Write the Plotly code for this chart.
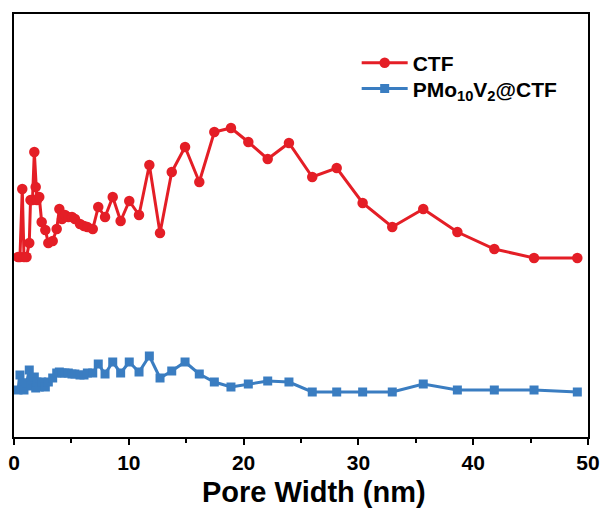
import plotly.graph_objects as go

# Pore width (nm), shared by both samples
pore_width = [0.35, 0.52, 0.72, 0.87, 1.09, 1.33, 1.44, 1.61, 1.77, 1.89,
              2.00, 2.20, 2.41, 2.73, 2.99, 3.37, 3.72, 3.95, 4.18, 4.44,
              4.73, 5.05, 5.31, 5.75, 6.10, 6.39, 6.86, 7.34, 7.93, 8.60,
              9.29, 10.04, 10.89, 11.79, 12.72, 13.74, 14.90, 16.14, 17.45, 18.90,
              20.41, 22.10, 23.95, 25.98, 28.11, 30.37, 32.95, 35.65, 38.62, 41.84,
              45.30, 49.07]

# Pore size distribution (arbitrary units, curves offset vertically)
ctf = [180, 180, 248, 180, 180, 194, 237, 237, 285, 250,
       237, 240, 215, 207, 194, 196, 208, 228, 218, 222,
       220, 220, 218, 213, 211, 210, 208, 230, 220, 240,
       216, 236, 222, 272, 204, 265, 290, 255, 305, 309,
       295, 278, 294, 260, 269, 234, 210, 228, 205, 188,
       179, 179]

pmo_ctf = [47, 62, 54, 47, 54, 67, 51, 57, 60, 49,
           55, 50, 55, 50, 55, 59, 64, 65, 64, 64,
           64, 63, 63, 62, 62, 64, 64, 73, 63, 75,
           64, 75, 65, 81, 59, 66, 75, 63, 55, 50,
           53, 56, 55, 45, 45, 45, 45, 53, 47, 47,
           47, 45]

x_ticks = [0, 10, 20, 30, 40, 50]

FONT = "Liberation Sans, Arial, sans-serif"
RED = "#E41E26"
BLUE = "#3A7DC1"

fig = go.Figure()
fig.add_trace(go.Scatter(
    x=pore_width, y=ctf, mode="lines+markers", name="<b>CTF</b>",
    line=dict(color=RED, width=3),
    marker=dict(symbol="circle", size=10.5, color=RED),
    legend="legend",
))
fig.add_trace(go.Scatter(
    x=pore_width, y=pmo_ctf, mode="lines+markers",
    name="<b>PMo<sub>10</sub>V<sub>2</sub>@CTF</b>",
    line=dict(color=BLUE, width=3),
    marker=dict(symbol="square", size=9, color=BLUE),
    legend="legend2",
))

legend_style = dict(
    xanchor="left", yanchor="middle",
    bgcolor="rgba(0,0,0,0)", borderwidth=0,
    font=dict(family=FONT, size=21, color="black"),
    itemwidth=46,
)

fig.update_layout(
    width=603, height=508,
    margin=dict(l=14, r=15, t=14, b=71, autoexpand=False),
    paper_bgcolor="white", plot_bgcolor="white",
    font=dict(family=FONT, color="black"),
    showlegend=True,
    legend=dict(x=0.597, y=0.884, **legend_style),
    legend2=dict(x=0.597, y=0.823, **legend_style),
    xaxis=dict(
        range=[0, 50], tickvals=x_ticks,
        ticktext=[f"<b>{v}</b>" for v in x_ticks],
        showline=True, linecolor="black", linewidth=2, mirror=True,
        ticks="outside", ticklen=6, tickwidth=2, tickcolor="black",
        minor=dict(dtick=5, ticks="outside", ticklen=4, tickwidth=2, tickcolor="black"),
        tickfont=dict(family=FONT, size=21, color="black"),
        showgrid=False, zeroline=False, automargin=False,
    ),
    yaxis=dict(
        range=[0, 423],
        showline=True, linecolor="black", linewidth=2, mirror=True,
        ticks="", showticklabels=False, showgrid=False, zeroline=False,
        automargin=False,
    ),
    annotations=[dict(
        text="<b>Pore Width (nm)</b>", xref="paper", yref="paper",
        x=0.522, y=-0.130, xanchor="center", yanchor="middle", showarrow=False,
        font=dict(family=FONT, size=29, color="black"),
    )],
)

fig.write_html("out.html")
